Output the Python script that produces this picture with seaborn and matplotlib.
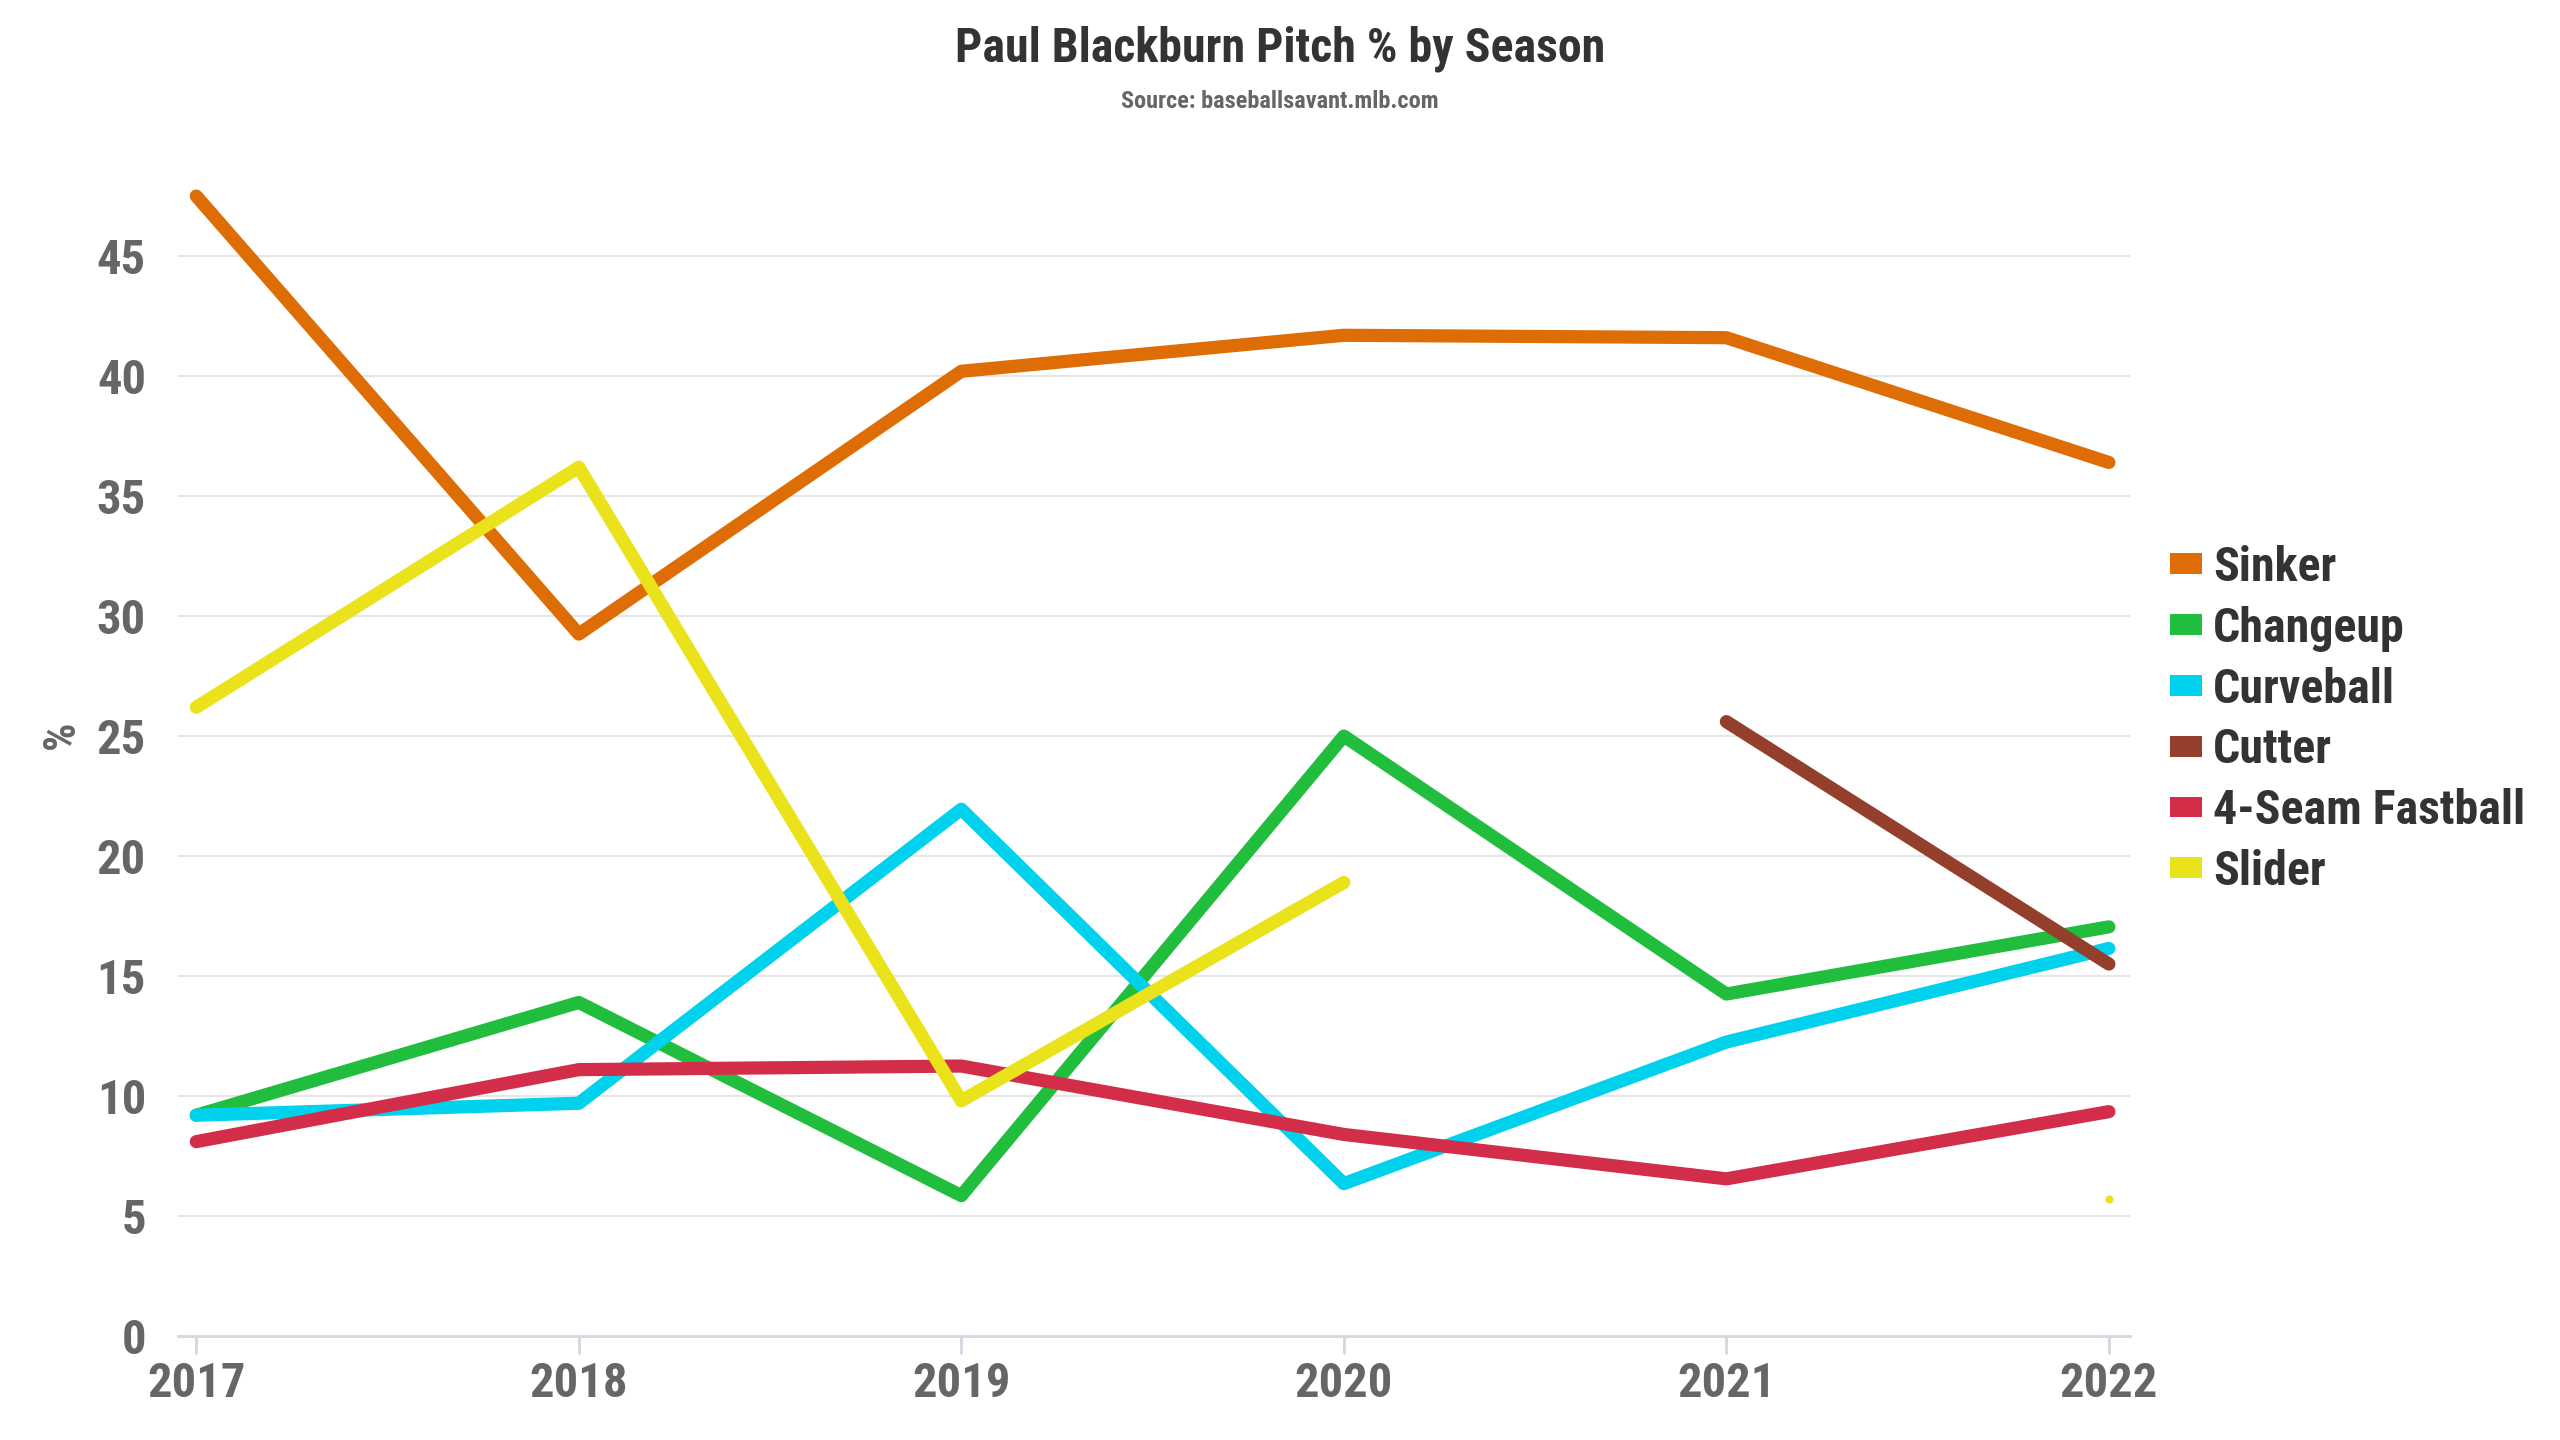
import numpy as np
import pandas as pd
import matplotlib
matplotlib.use('Agg')
from matplotlib import pyplot as plt
from matplotlib.patches import Patch
import seaborn as sns

seasons = [2017, 2018, 2019, 2020, 2021, 2022]
pitches = ['Sinker', 'Changeup', 'Curveball', 'Cutter', '4-Seam Fastball', 'Slider']
sinker = [47.5, 29.25, 40.2, 41.7, 41.6, 36.4]
changeup = [9.2, 13.9, 5.85, 25.0, 14.25, 17.05]
curveball = [9.2, 9.7, 21.95, 6.35, 12.25, 16.15]
cutter = [np.nan, np.nan, np.nan, np.nan, 25.6, 15.5]
fastball = [8.1, 11.1, 11.25, 8.4, 6.55, 9.35]
slider = [26.2, 36.2, 9.8, 18.9, np.nan, 5.7]
colors = ['#DD6D04', '#21BD3D', '#00D1EC', '#933F2C', '#D22D49', '#EAE21A']
y_ticks = [0, 5, 10, 15, 20, 25, 30, 35, 40, 45]

series = [sinker, changeup, curveball, cutter, fastball, slider]
df = pd.DataFrame({'season': np.tile(seasons, len(pitches)),
                   'pitch': np.repeat(pitches, len(seasons)),
                   'pct': np.concatenate(series)})

sns.set_theme(style='white')
plt.rcParams['font.family'] = ['Roboto Condensed', 'Liberation Sans Narrow', 'DejaVu Sans']
plt.rcParams['font.weight'] = 'bold'

fig = plt.figure(figsize=(25.6, 14.4), dpi=100)
ax = fig.add_axes([0.0695, 0.0722, 0.7625, 0.8083])

for name, col in zip(pitches, colors):
    d = df[df['pitch'] == name].reset_index(drop=True)
    # split into runs where values exist, so gaps stay gaps
    ok = d['pct'].notna()
    run = (~ok).cumsum()
    for _, seg in d[ok].groupby(run[ok]):
        if len(seg) > 1:
            sns.lineplot(data=seg, x='season', y='pct', ax=ax, color=col,
                         linewidth=9.5, solid_capstyle='round', sort=False, zorder=3)
        else:
            sns.scatterplot(data=seg, x='season', y='pct', ax=ax, color=col,
                            s=35, linewidth=0, zorder=3)

ax.set_xlim(2016.952, 2022.055)
ax.set_ylim(0, 48.5)
ax.set_yticks(y_ticks)
ax.set_xticks(seasons)
ax.set_xticklabels([str(s) for s in seasons])
for y in y_ticks[1:]:
    ax.axhline(y, color='#e6e6e6', linewidth=1.5, zorder=1)
for s in ['top', 'right', 'left']:
    ax.spines[s].set_visible(False)
ax.spines['bottom'].set_color('#d0d8e0')
ax.spines['bottom'].set_linewidth(2)
ax.tick_params(axis='x', colors='#666666', labelsize=35, length=13, width=2,
               color='#d0d8e0', pad=5, bottom=True)
ax.tick_params(axis='y', colors='#666666', labelsize=35, length=0, pad=23)
for lab in ax.get_xticklabels() + ax.get_yticklabels():
    lab.set_fontweight('bold')
ax.set_xlabel('')
ax.set_ylabel('')
fig.text(0.0242, 0.49, '%', rotation=90, ha='center', va='center',
         fontsize=32, color='#666666', fontweight='bold')

fig.text(0.5, 0.9576, 'Paul Blackburn Pitch % by Season', ha='center', va='baseline',
         fontsize=34.5, color='#333333', fontweight='bold')
fig.text(0.5, 0.925, 'Source: baseballsavant.mlb.com', ha='center', va='baseline',
         fontsize=17.5, color='#666666', fontweight='bold')

handles = [Patch(facecolor=c, edgecolor='none') for c in colors]
leg = fig.legend(handles, pitches, loc='center left', bbox_to_anchor=(0.8477, 0.5),
                 frameon=False, fontsize=34.5, handlelength=0.667, handleheight=0.29,
                 handletextpad=0.23, labelspacing=0.31, borderaxespad=0, borderpad=0)
for t in leg.get_texts():
    t.set_color('#333333')
    t.set_fontweight('bold')

fig.savefig('out.png', dpi=100, facecolor='white')
